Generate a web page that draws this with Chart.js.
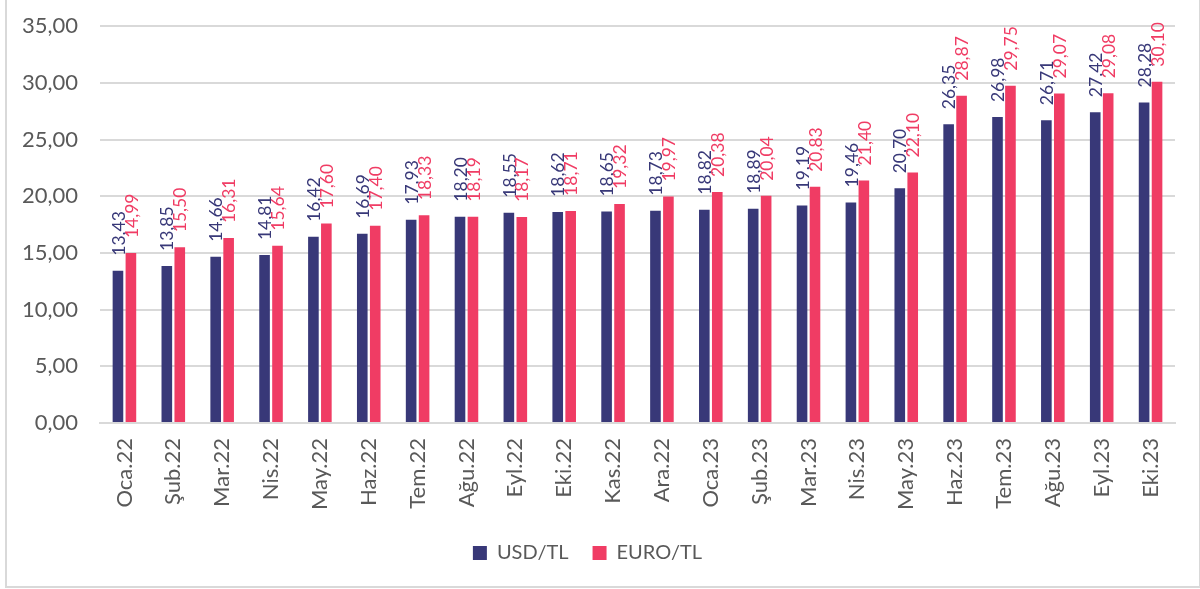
<!DOCTYPE html>
<html lang="tr">
<head>
    <meta charset="UTF-8">
    <title>USD/TL ve EURO/TL</title>
    <style>
        body { margin: 0; background: #fff; }
        #wrap { position: relative; width: 1200px; height: 589px; overflow: hidden; }
        #frame { position: absolute; left: 5px; top: -3px; width: 1196px; height: 591px; border: 2px solid #d9d9d9; box-sizing: border-box; }
        canvas { position: absolute; left: 0; top: -9px; }
    </style>
</head>
<body>
<div id="wrap">
    <div id="frame"></div>
    <canvas id="kurChart" width="1200" height="598"></canvas>
</div>
<script src="https://cdn.jsdelivr.net/npm/chart.js"></script>
<script>
    const aylar = ['Oca.22', 'Şub.22', 'Mar.22', 'Nis.22', 'May.22', 'Haz.22', 'Tem.22', 'Ağu.22', 'Eyl.22', 'Eki.22', 'Kas.22', 'Ara.22',
                   'Oca.23', 'Şub.23', 'Mar.23', 'Nis.23', 'May.23', 'Haz.23', 'Tem.23', 'Ağu.23', 'Eyl.23', 'Eki.23'];
    const usdTl = [13.43, 13.85, 14.66, 14.81, 16.42, 16.69, 17.93, 18.20, 18.55, 18.62, 18.65, 18.73,
                   18.82, 18.89, 19.19, 19.46, 20.70, 26.35, 26.98, 26.71, 27.42, 28.28];
    const euroTl = [14.99, 15.50, 16.31, 15.64, 17.60, 17.40, 18.33, 18.19, 18.17, 18.71, 19.32, 19.97,
                    20.38, 20.04, 20.83, 21.40, 22.10, 28.87, 29.75, 29.07, 29.08, 30.10];

    const fmt = v => v.toFixed(2).replace('.', ',');
    const yaziFont = 'Lato, "Open Sans", sans-serif';

    // bar ustune dik yazilan degerler
    const degerEtiketleri = {
        id: 'degerEtiketleri',
        afterDatasetsDraw(chart) {
            const ctx = chart.ctx;
            chart.data.datasets.forEach((ds, i) => {
                const meta = chart.getDatasetMeta(i);
                meta.data.forEach((bar, j) => {
                    ctx.save();
                    ctx.translate(bar.x + 1, bar.y - 15);
                    ctx.rotate(-Math.PI / 2);
                    ctx.font = '17.5px ' + yaziFont;
                    ctx.fillStyle = ds.backgroundColor;
                    ctx.textAlign = 'left';
                    ctx.textBaseline = 'middle';
                    ctx.fillText(fmt(ds.data[j]), 0, 0);
                    ctx.restore();
                });
            });
        }
    };

    new Chart(document.getElementById('kurChart'), {
        type: 'bar',
        data: {
            labels: aylar,
            datasets: [
                { label: 'USD/TL', data: usdTl, backgroundColor: '#383878', categoryPercentage: 0.53, barPercentage: 0.82 },
                { label: 'EURO/TL', data: euroTl, backgroundColor: '#f03c64', categoryPercentage: 0.53, barPercentage: 0.82 }
            ]
        },
        options: {
            responsive: false,
            animation: false,
            layout: { padding: { top: 7, right: 25, left: 0, bottom: 16 } },
            plugins: {
                legend: {
                    position: 'bottom',
                    labels: {
                        boxWidth: 14, boxHeight: 14, padding: 24,
                        color: '#595959',
                        font: { size: 20, family: yaziFont }
                    }
                },
                tooltip: { enabled: false }
            },
            scales: {
                x: {
                    grid: { display: false, drawTicks: false },
                    border: { color: '#d9d9d9', width: 2 },
                    ticks: {
                        minRotation: 90, maxRotation: 90, padding: 15,
                        color: '#595959',
                        font: { size: 22, family: yaziFont }
                    },
                    afterFit(scale) { scale.height = 96; }
                },
                y: {
                    min: 0, max: 35,
                    grid: { color: '#d9d9d9', lineWidth: 2, drawTicks: false },
                    border: { display: false },
                    ticks: {
                        stepSize: 5, padding: 22,
                        color: '#595959',
                        font: { size: 22, family: yaziFont },
                        callback: v => fmt(v)
                    },
                    afterFit(scale) { scale.width = 100; }
                }
            }
        },
        plugins: [degerEtiketleri]
    });
</script>
</body>
</html>
